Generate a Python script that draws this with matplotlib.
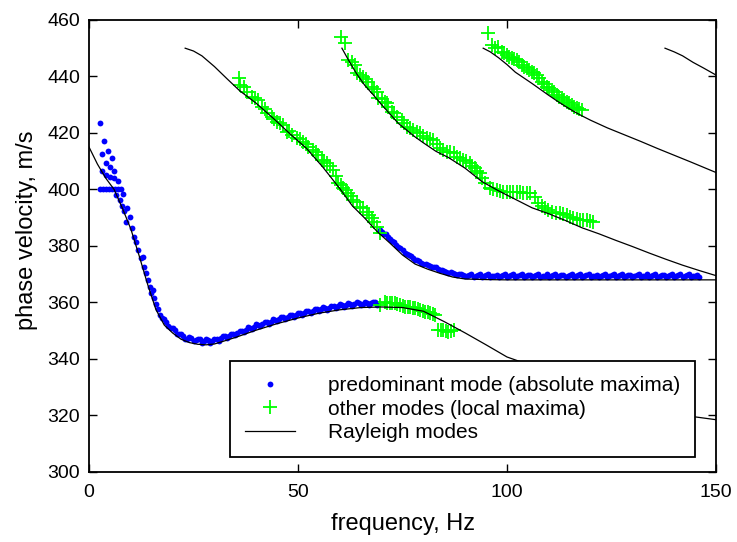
import matplotlib
matplotlib.use("Agg")
import matplotlib.pyplot as plt

plt.rcParams['font.family'] = ['Liberation Sans', 'DejaVu Sans']

# Rayleigh modes (theoretical dispersion curves)
mode0_f = [0, 2, 4, 6, 8, 10, 12, 14, 16, 18, 20, 22, 24, 26, 28, 30, 32, 35, 40, 45,
           50, 55, 60, 65, 70, 75, 80, 85, 90, 95, 100, 110, 120, 130, 140, 145, 150]
mode0_v = [415, 409, 404, 400, 393.3, 386, 376.5, 366.5, 357.5, 352, 349.2, 347, 345.8,
           345.2, 345, 345.3, 346.2, 347.6, 350.2, 352.5, 354.5, 356.2, 357.4, 358.2,
           358.4, 358.2, 356.9, 353.2, 349.2, 345.0, 340.7, 335.5, 330.5, 326, 321.5,
           319.5, 318.5]

mode1_f = [23, 25, 27, 30, 33, 36, 40, 44, 48, 52, 56, 60, 63, 66, 69, 72, 75, 78, 81,
           84, 87, 90, 95, 100, 110, 120, 130, 140, 150]
mode1_v = [450, 449, 447.3, 443.5, 439.2, 435, 430.5, 425.3, 419.8, 414.6, 407.8, 400.3,
           394.2, 389.8, 385, 381, 376.8, 373.6, 371.8, 370.3, 369, 368.3, 368.1, 368,
           368, 368, 368, 368, 368]

mode2_f = [60.5, 62, 64, 66, 68, 70, 72, 74, 76, 78, 80, 83, 86, 90, 94, 98, 102, 106,
           110, 114, 118, 122, 126, 130, 134, 138, 142, 146, 150]
mode2_v = [450, 446, 441, 436.8, 433.5, 430, 426.7, 423.4, 421, 418.6, 416.5, 413.5,
           411.3, 407.5, 402.8, 399.5, 396.5, 393.5, 391.4, 389, 386.4, 384.3, 382,
           379.8, 377.5, 375.3, 373.2, 371.3, 369.5]

mode3_f = [94.3, 96, 98, 100, 102, 104, 106, 108, 110, 112, 114, 116, 118, 120, 124, 128,
           132, 136, 140, 144, 150]
mode3_v = [450, 448.7, 446.6, 444.2, 441.5, 439.5, 437.5, 435.4, 433.3, 431.3, 429.4,
           427.6, 426, 424.5, 421.8, 419.4, 417, 414.5, 412.1, 409.7, 406]

mode4_f = [137.8, 140, 142, 144.5, 147, 150]
mode4_v = [450, 448.7, 447.3, 445, 443, 440.5]

# predominant mode (absolute maxima)
blue_f = [2.6, 3.6, 4.5, 3.2, 5.4, 4.1, 5.0, 6.0, 3.2, 4.0, 5.0, 6.0, 7.0,
          2.6, 3.3, 4.0, 4.8, 5.5, 6.2, 6.9, 7.6,
          6.5, 8.2, 7.4, 7.8, 9.2, 8.4, 9.7, 8.8, 10.2, 10.8, 11.2, 11.8, 12.8, 12.4,
          13.2, 13.7, 14.2, 14.5, 15.3, 14.8,
          16, 17, 18, 19, 20, 21, 22, 23, 24, 25, 26, 27, 28, 29, 30, 31, 32, 33, 34,
          35, 36, 37, 38, 39, 40, 41, 42, 43, 44, 45, 46, 47, 48, 49, 50, 51, 52, 53,
          54, 55, 56, 57, 58, 59, 60, 61, 62, 63, 64, 65, 66, 67, 68, 69,
          70, 71, 72, 73, 74, 75, 76, 77, 78, 79, 80, 81, 82, 83, 84, 85, 86, 87, 88,
          89, 90, 91, 92, 93, 94, 95, 96, 97, 98, 99, 100, 101, 102, 103, 104, 105,
          106, 107, 108, 109, 110, 111, 112, 113, 114, 115, 116, 117, 118, 119, 120,
          121, 122, 123, 124, 125, 126, 127, 128, 129, 130, 131, 132, 133, 134, 135,
          136, 137, 138, 139, 140, 141, 142, 143, 144, 145, 146]
blue_v = [423.6, 417.3, 413.7, 412.5, 411, 409.3, 408.1, 406.5, 406.5, 405.1, 404.5, 404, 403,
          400.2, 400.2, 400.2, 400.2, 400.2, 400.2, 400.2, 400.2,
          398, 398.4, 396.3, 394, 393.3, 392.2, 390.2, 388.4, 386.3, 383.3, 381.5, 378.6,
          376.2, 375.6, 372.7, 370.3, 368, 365.6, 364.4, 363.3,
          359.5, 355.5, 354, 351.5, 351, 348.8, 348.8, 347.2, 347.8, 346.3, 347.2, 345.8,
          347, 345.8, 347.2, 346.5, 348.2, 347.4, 349, 348.4, 350, 349.4, 351.2, 350.5,
          352.2, 351.5, 353, 352.4, 354, 353.3, 354.9, 354.1, 355.6, 354.9, 356.4, 355.7,
          357.1, 356.3, 357.8, 357, 358.4, 357.5, 358.9, 358, 359.3, 358.4, 359.7, 358.8,
          360, 359, 360.2, 359.1, 360.3, 359.2,
          385, 384.3, 382.3, 381.4, 379.5, 378.6, 377, 376.3, 375, 374.6, 373.7, 373.4,
          372.5, 372.4, 371.5, 371.3, 370.5, 370.6, 369.8, 369.9, 369.3,
          369.7, 368.9, 369.6, 369.0, 369.8, 368.9, 369.5, 369.0, 369.7, 368.9, 369.6,
          369.1, 369.8, 368.9, 369.6, 369.0, 369.7, 368.9, 369.5, 369.0, 369.8, 368.9,
          369.6, 369.0, 369.7, 368.9, 369.6, 369.1, 369.8, 368.9, 369.5, 369.0, 369.7,
          368.9, 369.6, 369.0, 369.8, 368.9, 369.6, 369.1, 369.7, 368.9, 369.5, 369.0,
          369.8, 368.9, 369.6, 369.0, 369.7, 368.9, 369.6, 369.1, 369.8, 368.9, 369.5,
          369.0]

# in-between picks of the same mode (dense band)
blue_half_f = [15.5, 16.5, 17.5, 18.5, 19.5, 20.5, 21.5, 22.5, 23.5, 24.5, 25.5, 26.5,
               27.5, 28.5, 29.5, 30.5, 31.5, 32.5, 33.5, 34.5, 35.5, 36.5, 37.5, 38.5,
               39.5, 40.5, 41.5, 42.5, 43.5, 44.5, 45.5, 46.5, 47.5, 48.5, 49.5, 50.5,
               51.5, 52.5, 53.5, 54.5, 55.5, 56.5, 57.5, 58.5, 59.5, 60.5, 61.5, 62.5,
               63.5, 64.5, 65.5, 66.5, 67.5, 68.5,
               69.5, 70.5, 71.5, 72.5, 73.5, 74.5, 75.5, 76.5, 77.5, 78.5, 79.5, 80.5,
               81.5, 82.5, 83.5, 84.5, 85.5, 86.5, 87.5, 88.5, 89.5,
               90.5, 91.5, 92.5, 93.5, 94.5, 95.5, 96.5, 97.5,
               98.5, 99.5, 100.5, 101.5, 102.5, 103.5, 104.5, 105.5,
               106.5, 107.5, 108.5, 109.5, 110.5, 111.5, 112.5, 113.5,
               114.5, 115.5, 116.5, 117.5, 118.5, 119.5, 120.5, 121.5,
               122.5, 123.5, 124.5, 125.5, 126.5, 127.5, 128.5, 129.5,
               130.5, 131.5, 132.5, 133.5, 134.5, 135.5, 136.5, 137.5,
               138.5, 139.5, 140.5, 141.5, 142.5, 143.5, 144.5, 145.5]
blue_half_v = [361.5, 357.8, 354.6, 353.0, 351.0, 350.3, 348.7, 348.3, 347.2, 347.3, 346.6, 346.9,
               346.3, 346.6, 346.4, 347.1, 347.3, 348.0, 348.2, 349.0, 349.2, 350.0, 350.2, 351.0,
               351.3, 352.0, 352.2, 353.0, 353.1, 353.9, 354.0, 354.7, 354.8, 355.5, 355.6, 356.3,
               356.3, 357.0, 357.0, 357.6, 357.6, 358.2, 358.2, 358.7, 358.6, 359.1, 359.0, 359.5,
               359.3, 359.7, 359.5, 359.9, 359.7, 360.0,
               385.8, 384.2, 383.0, 381.9, 380.3, 379.2, 377.6, 376.8, 375.6, 374.9, 374.0, 373.6,
               372.8, 372.6, 371.8, 371.5, 370.9, 370.7, 370.1, 369.9, 369.6,
               369.4, 370.0, 369.3, 369.9, 369.5, 370.1, 369.3, 369.8,
               369.4, 370.0, 369.3, 369.9, 369.5, 370.1, 369.3, 369.8,
               369.4, 370.0, 369.3, 369.9, 369.5, 370.1, 369.3, 369.8,
               369.4, 370.0, 369.3, 369.9, 369.5, 370.1, 369.3, 369.8,
               369.4, 370.0, 369.3, 369.9, 369.5, 370.1, 369.3, 369.8,
               369.4, 370.0, 369.3, 369.9, 369.5, 370.1, 369.3, 369.8,
               369.4, 370.0, 369.3, 369.9, 369.5, 370.1, 369.3, 369.8]

# other modes (local maxima)
green_f = [35.8, 36.1, 37.7, 38.9, 40.5, 41.3, 42.5, 43.7, 44.9, 46.5, 47.3, 48.5, 49.7,
           51.3, 52.5, 53.7, 54.9, 55.7, 56.9, 58.4, 59.6, 60.8, 62, 63.2, 64.8, 66.4,
           67.6, 68.8, 69.6,
           60.4, 61.2, 62, 63.6, 64, 65.6, 66.8, 67.6, 68.8, 69.2, 70.8, 71.6, 72.4, 73.6,
           74.8, 76, 77.6, 79.2, 80.8, 82.4, 84, 85.6, 87.2, 88, 89.5, 91.1, 92.3, 93.5,
           94.7, 95.9, 97.5, 99.1, 100.7, 102.3, 103.9, 105.5, 106.7, 107.5, 109.1,
           110.7, 112.7, 114.3, 115.9, 117.5, 119.1, 120.6,
           95.5, 96.3, 97.9, 98.7, 99.9, 101.1, 102.3, 103.5, 104.7, 105.9, 107.1, 108.3,
           109.5, 110.7, 111.9, 113.1, 114.3, 115.5, 116.7, 117.9,
           69.6, 70.8, 72, 73.2, 74.4, 75.6, 76.8, 78, 79.2, 80.4, 81.6, 82.8, 83.6, 84.8,
           86, 87.2]
green_v = [439.4, 437, 434.6, 432.9, 431.7, 429.3, 427, 425.8, 424, 422.8, 420.5, 419.3,
           418.1, 416.9, 415.2, 414, 412.2, 410.4, 409.3, 406.9, 402.2, 400.4, 398.7,
           396.3, 393.9, 392.1, 389.8, 386.8, 384.5,
           454.1, 451.7, 445.8, 444.1, 441.1, 439.9, 438.2, 436.4, 434.6, 432.3, 431.1,
           429.3, 427.5, 425.8, 424.6, 422.2, 421.1, 419.9, 418.1, 417.5, 414.6, 413.4,
           412.8, 411.6, 410.4, 409.3, 407.5, 405.7, 402.2, 400.4, 399.8, 399.2, 399.2,
           399.2, 398.7, 398.7, 397.5, 395.1, 393.3, 392.1, 391.6, 391, 389.8, 389.2,
           389.2, 388.6,
           455.3, 451.2, 450.6, 448.8, 447.6, 446.4, 445.8, 444.1, 442.9, 441.7, 440.5,
           438.2, 436.4, 435.2, 433.5, 432.3, 431.1, 429.9, 428.7, 428.1,
           359.1, 360.3, 359.7, 359.7, 359.1, 358.5, 358.5, 357.9, 357.3, 356.7, 356.2,
           355.6, 350.3, 350.3, 349.7, 350.3]

# further local maxima picked between the ones above
green2_f = [37.0, 39.7, 42.0, 44.3, 45.7, 47.9, 50.5, 52.0, 54.3, 56.3,
            57.6, 59.0, 60.2, 61.4, 62.6, 64.0, 65.6, 67.0, 68.2,
            62.8, 64.8, 66.2, 68.2, 70.0, 71.2, 73.0, 75.4, 76.8, 78.4,
            80.0, 81.6, 83.2, 84.8, 86.4, 88.8, 90.3, 91.7, 92.9, 94.1,
            96.7, 98.3, 99.9, 101.5, 103.1, 104.7, 108.3, 109.9, 111.7, 113.5,
            115.1, 116.7, 118.3, 119.9,
            97.1, 99.3, 100.5, 101.7, 102.9, 104.1, 105.3, 106.5, 107.7, 108.9,
            110.1, 111.3, 112.5, 113.7, 114.9, 116.1, 117.3,
            71.4, 72.6, 73.8, 75.0, 76.2, 77.4, 78.6, 79.8, 81.0, 82.2,
            84.2, 85.4, 86.6]
green2_v = [436.2, 432.5, 428.5, 424.8, 423.6, 420.6, 417.8, 416.0, 413.4, 410.2,
            408.4, 404.8, 401.6, 399.8, 397.7, 395.6, 393.3, 391.0, 388.6,
            445.0, 440.5, 439.0, 435.4, 432.0, 430.5, 427.0, 423.6, 421.8, 420.5,
            419.0, 417.8, 416.0, 414.0, 413.2, 411.0, 409.9, 408.4, 406.6, 404.0,
            400.0, 399.5, 399.2, 399.2, 399.0, 398.7, 394.2, 392.7, 391.8, 391.3,
            390.4, 389.5, 389.2, 388.9,
            450.0, 448.2, 447.0, 446.1, 445.0, 443.5, 442.3, 441.1, 439.4, 437.3,
            435.8, 434.4, 432.9, 431.7, 430.5, 429.3, 428.4,
            359.9, 359.7, 359.4, 358.8, 358.5, 358.2, 357.6, 357.0, 356.5, 355.9,
            350.3, 350.0, 350.0]

fig = plt.figure(figsize=(7.37, 5.42), dpi=100)
ax = fig.add_axes([0.1208, 0.1292, 0.8507, 0.834])

blue_style = dict(ls='none', marker='o', color=(0, 0, 1), ms=4.2, mew=0, zorder=2)
green_style = dict(ls='none', marker='+', color=(0, 1, 0), ms=10.5, mew=1.3, zorder=3)

ax.plot(blue_f, blue_v, label='predominant mode (absolute maxima)', **blue_style)
ax.plot(blue_half_f, blue_half_v, **blue_style)
ax.plot(green_f, green_v, label='other modes (local maxima)', **green_style)
ax.plot(green2_f, green2_v, **green_style)
ax.plot(mode0_f, mode0_v, 'k-', lw=0.9, zorder=4, label='Rayleigh modes')
for f, v in [(mode1_f, mode1_v), (mode2_f, mode2_v), (mode3_f, mode3_v), (mode4_f, mode4_v)]:
    ax.plot(f, v, 'k-', lw=0.9, zorder=4)

ax.set_xlim(0, 150)
ax.set_ylim(300, 460)
ax.set_xticks([0, 50, 100, 150])
ax.set_yticks(range(300, 461, 20))
ax.tick_params(direction='in', top=True, right=True, length=6, width=1,
               labelsize=14)
ax.tick_params(axis='x', pad=8.5)
ax.tick_params(axis='y', pad=6.5)
for s in ax.spines.values():
    s.set_linewidth(1.3)

ax.set_xlabel('frequency, Hz', fontsize=17)
ax.set_ylabel('phase velocity, m/s', fontsize=17)
ax.xaxis.set_label_coords(0.5, -0.09)
ax.yaxis.set_label_coords(-0.081, 0.535)

leg = ax.legend(loc='lower right', bbox_to_anchor=(0.9665, 0.0332), borderaxespad=0,
                fontsize=15, numpoints=1, handlelength=2.4, handletextpad=1.6,
                borderpad=0.7, labelspacing=0.23, fancybox=False, framealpha=1,
                edgecolor='black')
leg.get_frame().set_linewidth(1.3)
leg.set_zorder(10)

fig.savefig('out.png', dpi=100)
